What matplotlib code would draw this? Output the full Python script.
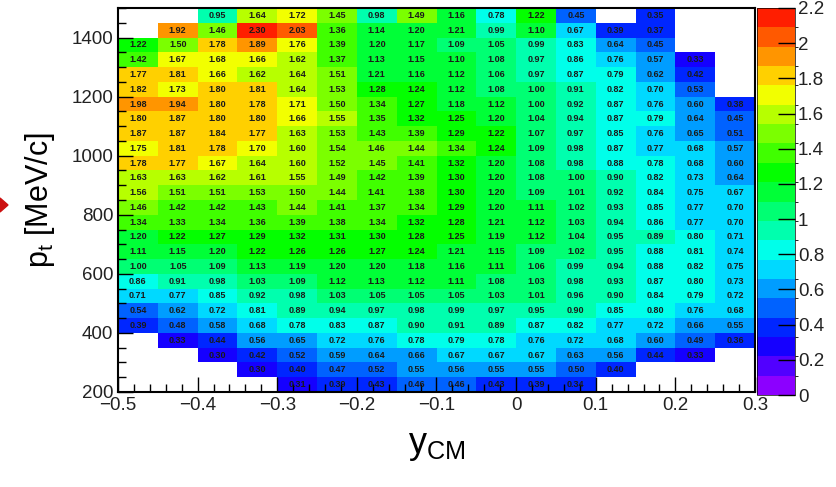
import colorsys
import numpy as np
import matplotlib.pyplot as plt
from matplotlib.colors import ListedColormap, BoundaryNorm
from matplotlib.patches import Polygon
from matplotlib.ticker import MultipleLocator

plt.rcParams["font.family"] = ["Liberation Sans", "DejaVu Sans"]
plt.rcParams["mathtext.fontset"] = "custom"
plt.rcParams["mathtext.rm"] = "Liberation Sans"

# rapidity bins (y_CM) and transverse momentum bins (MeV/c)
y_edges = np.linspace(-0.5, 0.3, 17)
pt_edges = np.arange(200, 1501, 50)

N = None
# rows listed from the highest pt bin (1450-1500) down to the lowest (200-250)
rows = [
    [N, N, 0.95, 1.64, 1.72, 1.45, 0.98, 1.49, 1.16, 0.78, 1.22, 0.45, N, 0.35, N, N],
    [N, 1.92, 1.46, 2.30, 2.03, 1.36, 1.14, 1.20, 1.21, 0.99, 1.10, 0.67, 0.39, 0.37, N, N],
    [1.22, 1.50, 1.78, 1.89, 1.76, 1.39, 1.20, 1.17, 1.09, 1.05, 0.99, 0.83, 0.64, 0.45, N, N],
    [1.42, 1.67, 1.68, 1.66, 1.62, 1.37, 1.13, 1.15, 1.10, 1.08, 0.97, 0.86, 0.76, 0.57, 0.33, N],
    [1.77, 1.81, 1.66, 1.62, 1.64, 1.51, 1.21, 1.16, 1.12, 1.06, 0.97, 0.87, 0.79, 0.62, 0.42, N],
    [1.82, 1.73, 1.80, 1.81, 1.64, 1.53, 1.28, 1.24, 1.12, 1.08, 1.00, 0.91, 0.82, 0.70, 0.53, N],
    [1.98, 1.94, 1.80, 1.78, 1.71, 1.50, 1.34, 1.27, 1.18, 1.12, 1.00, 0.92, 0.87, 0.76, 0.60, 0.38],
    [1.80, 1.87, 1.80, 1.80, 1.66, 1.55, 1.35, 1.32, 1.25, 1.20, 1.04, 0.94, 0.87, 0.79, 0.64, 0.45],
    [1.87, 1.87, 1.84, 1.77, 1.63, 1.53, 1.43, 1.39, 1.29, 1.22, 1.07, 0.97, 0.85, 0.76, 0.65, 0.51],
    [1.75, 1.81, 1.78, 1.70, 1.60, 1.54, 1.46, 1.44, 1.34, 1.24, 1.09, 0.98, 0.87, 0.77, 0.68, 0.57],
    [1.78, 1.77, 1.67, 1.64, 1.60, 1.52, 1.45, 1.41, 1.32, 1.20, 1.08, 0.98, 0.88, 0.78, 0.68, 0.60],
    [1.63, 1.63, 1.62, 1.61, 1.55, 1.49, 1.42, 1.39, 1.30, 1.20, 1.08, 1.00, 0.90, 0.82, 0.73, 0.64],
    [1.56, 1.51, 1.51, 1.53, 1.50, 1.44, 1.41, 1.38, 1.30, 1.20, 1.09, 1.01, 0.92, 0.84, 0.75, 0.67],
    [1.46, 1.42, 1.42, 1.43, 1.44, 1.41, 1.37, 1.34, 1.29, 1.20, 1.11, 1.02, 0.93, 0.85, 0.77, 0.70],
    [1.34, 1.33, 1.34, 1.36, 1.39, 1.38, 1.34, 1.32, 1.28, 1.21, 1.12, 1.03, 0.94, 0.86, 0.77, 0.70],
    [1.20, 1.22, 1.27, 1.29, 1.32, 1.31, 1.30, 1.28, 1.25, 1.19, 1.12, 1.04, 0.95, 0.89, 0.80, 0.71],
    [1.11, 1.15, 1.20, 1.22, 1.26, 1.26, 1.27, 1.24, 1.21, 1.15, 1.09, 1.02, 0.95, 0.88, 0.81, 0.74],
    [1.00, 1.05, 1.09, 1.13, 1.19, 1.20, 1.20, 1.18, 1.16, 1.11, 1.06, 0.99, 0.94, 0.88, 0.82, 0.75],
    [0.86, 0.91, 0.98, 1.03, 1.09, 1.12, 1.13, 1.12, 1.11, 1.08, 1.03, 0.98, 0.93, 0.87, 0.80, 0.73],
    [0.71, 0.77, 0.85, 0.92, 0.98, 1.03, 1.05, 1.05, 1.05, 1.03, 1.01, 0.96, 0.90, 0.84, 0.79, 0.72],
    [0.54, 0.62, 0.72, 0.81, 0.89, 0.94, 0.97, 0.98, 0.99, 0.97, 0.95, 0.90, 0.85, 0.80, 0.76, 0.68],
    [0.39, 0.48, 0.58, 0.68, 0.78, 0.83, 0.87, 0.90, 0.91, 0.89, 0.87, 0.82, 0.77, 0.72, 0.66, 0.55],
    [N, 0.33, 0.44, 0.56, 0.65, 0.72, 0.76, 0.78, 0.79, 0.78, 0.76, 0.72, 0.68, 0.60, 0.49, 0.36],
    [N, N, 0.30, 0.42, 0.52, 0.59, 0.64, 0.66, 0.67, 0.67, 0.67, 0.63, 0.56, 0.44, 0.33, N],
    [N, N, N, 0.30, 0.40, 0.47, 0.52, 0.55, 0.56, 0.55, 0.55, 0.50, 0.40, N, N, N],
    [N, N, N, N, 0.31, 0.39, 0.43, 0.46, 0.46, 0.43, 0.39, 0.34, N, N, N, N],
]

z = np.array([[np.nan if v is None else v for v in r] for r in rows])[::-1]

# ROOT-like rainbow palette with 20 contour levels
nlev = 20
zmax = 2.2
cols = [colorsys.hls_to_rgb((280 * (1 - (i + 0.5) / nlev)) / 360, 0.5, 1.0) for i in range(nlev)]
cmap = ListedColormap(cols)
norm = BoundaryNorm(np.linspace(0, zmax, nlev + 1), nlev)

fig = plt.figure(figsize=(8.36, 4.87), dpi=100)
ax = fig.add_axes([118 / 836, 95 / 487, 637 / 836, 384 / 487])
mesh = ax.pcolormesh(y_edges, pt_edges, z, cmap=cmap, norm=norm)

yc = 0.5 * (y_edges[:-1] + y_edges[1:])
pc = 0.5 * (pt_edges[:-1] + pt_edges[1:])
for i in range(len(pc)):
    for j in range(len(yc)):
        if not np.isnan(z[i, j]):
            ax.text(yc[j], pc[i], f"{z[i, j]:.2f}", ha="center", va="center",
                    fontsize=6.5, fontweight="bold", color="#1a1a1a")

ax.set_xlim(-0.5, 0.3)
ax.set_ylim(200, 1500)
ax.xaxis.set_major_locator(MultipleLocator(0.1))
ax.xaxis.set_minor_locator(MultipleLocator(0.02))
ax.yaxis.set_major_locator(MultipleLocator(200))
ax.yaxis.set_minor_locator(MultipleLocator(50))
ax.tick_params(which="both", direction="in", top=False, right=False, labelsize=13.5, width=1,
               labelcolor="#222222")
ax.tick_params(which="major", length=11)
ax.tick_params(which="minor", length=6)
ax.set_xticks(np.arange(-0.5, 0.31, 0.1))
ax.set_xticklabels(["\u22120.5", "\u22120.4", "\u22120.3", "\u22120.2", "\u22120.1", "0", "0.1", "0.2", "0.3"])
for s in ax.spines.values():
    s.set_linewidth(1.5)

ax.set_xlabel("y$_{\\mathrm{CM}}$", fontsize=26, labelpad=10)
ax.set_ylabel("p$_{\\mathrm{t}}$ [MeV/c]", fontsize=22, labelpad=10)

cax = fig.add_axes([757 / 836, 92 / 487, 38 / 836, 387 / 487])
cb = fig.colorbar(mesh, cax=cax, ticks=np.arange(0, 2.21, 0.2))
cb.ax.set_yticklabels([f"{t:g}" for t in np.round(np.arange(0, 2.21, 0.2), 1)])
cb.ax.tick_params(direction="in", length=12, width=1, labelsize=13.5, pad=2, labelcolor="#222222")
cb.outline.set_linewidth(0.5)

# small red pointer at the left edge
fig.patches.append(Polygon([[0, 1 - 198 / 487], [8 / 836, 1 - 205 / 487], [0, 1 - 212 / 487]],
                           closed=True, transform=fig.transFigure, color="#cc1010"))

fig.savefig("out.png", dpi=100)
